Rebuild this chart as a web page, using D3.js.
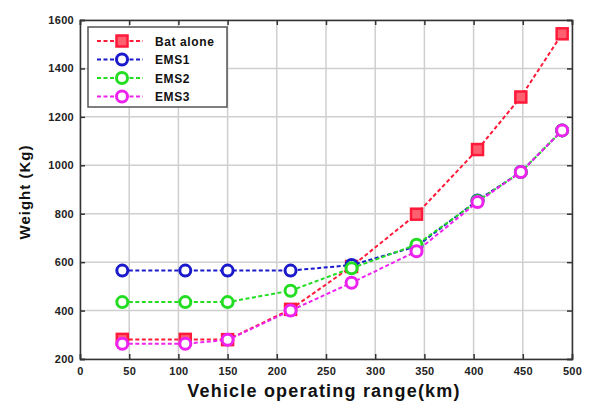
<!DOCTYPE html>
<html><head><meta charset="utf-8">
<script src="https://cdn.jsdelivr.net/npm/d3@7"></script>
<style>body{margin:0;background:#fff}svg{display:block}text{font-family:Arial,"Liberation Sans",sans-serif}</style>
</head><body><svg id="c" width="589" height="402"></svg>
<script>
const ranges = [43, 107, 150, 214, 276, 342, 404, 448, 490];
const batAlone = [281, 281, 280, 405, 582, 798, 1065, 1282, 1543];
const ems1 = [565, 565, 565, 565, 588, 665, 855, 972, 1144];
const ems2 = [435, 435, 435, 482, 575, 672, 852, 972, 1144];
const ems3 = [263, 263, 279, 400, 515, 645, 848, 972, 1144];
const seriesNames = ["Bat alone", "EMS1", "EMS2", "EMS3"];
const seriesColors = ["#ff1a3a", "#1a1acc", "#22dd22", "#ee22ee"];
const seriesMarkers = ["square", "circle", "circle", "circle"];
const xTicks = [0, 50, 100, 150, 200, 250, 300, 350, 400, 450, 500];
const yTicks = [200, 400, 600, 800, 1000, 1200, 1400, 1600];

const svg = d3.select("#c");
const L = 80, R = 572, T = 20, B = 359;
const x = d3.scaleLinear().domain([0, 500]).range([L, R]);
const y = d3.scaleLinear().domain([200, 1600]).range([B, T]);

// grid
svg.append("g").selectAll("line").data(xTicks).join("line")
  .attr("x1", d => x(d)).attr("x2", d => x(d)).attr("y1", T).attr("y2", B)
  .attr("stroke", "#cfcfcf").attr("stroke-width", 1.5);
svg.append("g").selectAll("line").data(yTicks).join("line")
  .attr("y1", d => y(d)).attr("y2", d => y(d)).attr("x1", L).attr("x2", R)
  .attr("stroke", "#cfcfcf").attr("stroke-width", 1.5);

// axes
const fmt = d3.format("d");
svg.append("g").attr("transform", `translate(0,${B})`)
  .call(d3.axisBottom(x).tickValues(xTicks).tickFormat(fmt).tickSize(-5).tickPadding(8));
svg.append("g").attr("transform", `translate(${L},0)`)
  .call(d3.axisLeft(y).tickValues(yTicks).tickFormat(fmt).tickSize(-5).tickPadding(6));
svg.append("g").attr("transform", `translate(0,${T})`)
  .call(d3.axisTop(x).tickValues(xTicks).tickSize(-5).tickFormat(""));
svg.append("g").attr("transform", `translate(${R},0)`)
  .call(d3.axisRight(y).tickValues(yTicks).tickSize(-5).tickFormat(""));
svg.selectAll(".domain").attr("stroke", "#333").attr("stroke-width", 1.5);
svg.selectAll(".tick line").attr("stroke", "#333").attr("stroke-width", 1.5);
svg.selectAll(".tick text").attr("font-size", 11).attr("font-weight", "bold").attr("fill", "#222")
  .attr("letter-spacing", 0.3);

// series
const all = [batAlone, ems1, ems2, ems3];
const line = d3.line().x((d, i) => x(ranges[i])).y(d => y(d));
function marker(g, type, color, cx, cy) {
  if (type === "square") {
    g.append("rect").attr("x", cx - 5.5).attr("y", cy - 5.5).attr("width", 11).attr("height", 11)
      .attr("fill", "#ff6070").attr("stroke", color).attr("stroke-width", 2.5);
  } else {
    g.append("circle").attr("cx", cx).attr("cy", cy).attr("r", 5.5)
      .attr("fill", "#fff").attr("stroke", color).attr("stroke-width", 3);
  }
}
all.forEach((vals, k) => {
  const g = svg.append("g");
  g.append("path").datum(vals).attr("d", line).attr("fill", "none")
    .attr("stroke", seriesColors[k]).attr("stroke-width", 2).attr("stroke-dasharray", "4,2.5");
  vals.forEach((v, i) => marker(g, seriesMarkers[k], seriesColors[k], x(ranges[i]), y(v)));
});

// legend
const lg = svg.append("g");
lg.append("rect").attr("x", 88).attr("y", 27).attr("width", 139).attr("height", 80)
  .attr("fill", "#fff").attr("stroke", "#555").attr("stroke-width", 1.5);
seriesNames.forEach((n, k) => {
  const yy = 41 + k * 18.5;
  lg.append("line").attr("x1", 97).attr("x2", 143).attr("y1", yy).attr("y2", yy)
    .attr("stroke", seriesColors[k]).attr("stroke-width", 2).attr("stroke-dasharray", "4,2.5");
  marker(lg, seriesMarkers[k], seriesColors[k], 122, yy);
  lg.append("text").attr("x", 155).attr("y", yy + 4.5).attr("font-size", 12).attr("font-weight", "bold")
    .attr("letter-spacing", 0.6).attr("fill", "#111").text(n);
});

// labels
svg.append("text").attr("x", 324).attr("y", 397).attr("text-anchor", "middle")
  .attr("font-size", 18).attr("font-weight", "bold").attr("letter-spacing", 1.2)
  .attr("fill", "#111").text("Vehicle operating range(km)");
svg.append("text").attr("transform", "translate(30,192) rotate(-90)").attr("text-anchor", "middle")
  .attr("font-size", 15).attr("font-weight", "bold").attr("letter-spacing", 1)
  .attr("fill", "#111").text("Weight (Kg)");
</script></body></html>
